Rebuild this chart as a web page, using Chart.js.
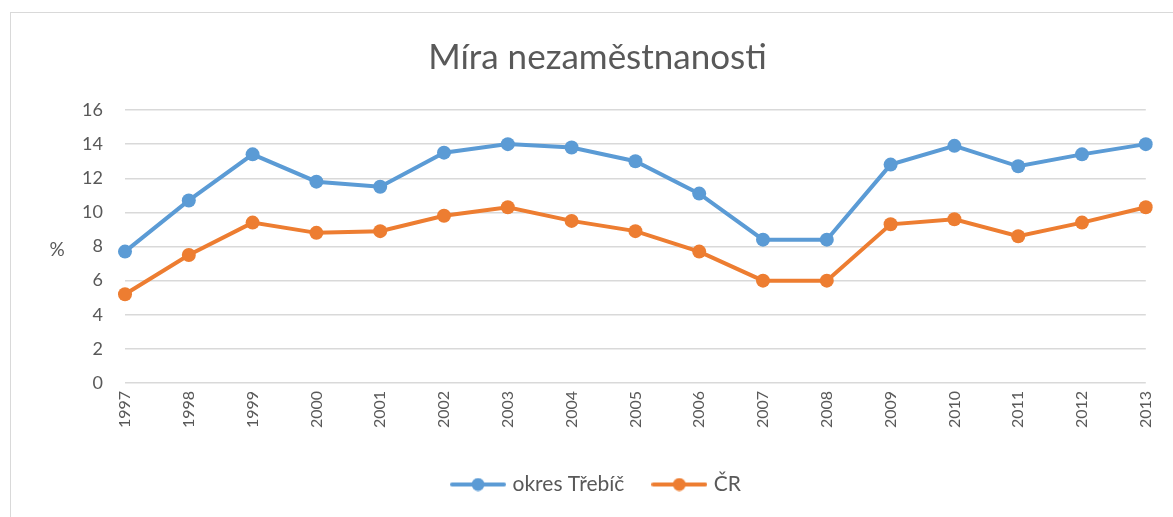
<!DOCTYPE html>
<html>
<head>
<meta charset="utf-8">
<script src="https://cdn.jsdelivr.net/npm/chart.js@4/dist/chart.umd.min.js"></script>
<style>
body{margin:0;background:#fff;overflow:hidden;}
#frame{position:absolute;left:10px;top:12px;width:1200px;height:560px;border-left:1.5px solid #D9D9D9;border-top:1.5px solid #D9D9D9;}
#chart{position:absolute;left:0;top:0;}
</style>
</head>
<body>
<div id="frame"></div>
<canvas id="chart" width="1173" height="517"></canvas>
<script>

/* ===============================
        Data
================================ */

const years = ["1997","1998","1999","2000","2001","2002","2003","2004","2005","2006","2007","2008","2009","2010","2011","2012","2013"];

const trebic = [7.7,10.7,13.4,11.8,11.5,13.5,14.0,13.8,13.0,11.1,8.4,8.4,12.8,13.9,12.7,13.4,14.0];

const cr = [5.2,7.5,9.4,8.8,8.9,9.8,10.3,9.5,8.9,7.7,6.0,6.0,9.3,9.6,8.6,9.4,10.3];

const yTicks = [0,2,4,6,8,10,12,14,16];

const textColor = "#595959";
const fontFamily = "Lato, 'Open Sans', sans-serif";


/* legend marker: line with a dot (a bit wider than its legend box) */
function legendMarker(color){
  const c = document.createElement("canvas");
  c.width = 56;
  c.height = 14;
  const g = c.getContext("2d");
  g.strokeStyle = color;
  g.lineWidth = 4;
  g.lineCap = "round";
  g.beginPath();
  g.moveTo(2,7);
  g.lineTo(54,7);
  g.stroke();
  g.fillStyle = color;
  g.beginPath();
  g.arc(28,7,6.5,0,Math.PI*2);
  g.fill();
  return c;
}


/* "%" label next to the y axis, kept horizontal */
const percentLabel = {
  id:"percentLabel",
  afterDraw(chart){
    const a = chart.chartArea;
    const ctx = chart.ctx;
    ctx.save();
    ctx.fillStyle = textColor;
    ctx.font = "19px " + fontFamily;
    ctx.textAlign = "center";
    ctx.textBaseline = "middle";
    ctx.fillText("%", a.left - 68, (a.top + a.bottom)/2 + 3);
    ctx.restore();
  }
};


new Chart(
document.getElementById("chart"),
{

type:"line",

data:{
  labels:years,
  datasets:[
    {
      label:"okres Třebíč",
      data:trebic,
      borderColor:"#5B9BD5",
      backgroundColor:"#5B9BD5",
      borderWidth:4,
      pointRadius:7,
      pointBorderWidth:0,
      pointStyle:"circle",
      tension:0
    },
    {
      label:"ČR",
      data:cr,
      borderColor:"#ED7D31",
      backgroundColor:"#ED7D31",
      borderWidth:4,
      pointRadius:7,
      pointBorderWidth:0,
      pointStyle:"circle",
      tension:0
    }
  ]
},

options:{
  responsive:false,
  animation:false,
  layout:{
    padding:{left:42,right:20,top:0,bottom:12}
  },
  plugins:{
    title:{
      display:true,
      text:"Míra nezaměstnanosti",
      color:textColor,
      font:{family:fontFamily,size:35,weight:"normal"},
      padding:{top:37,bottom:31}
    },
    legend:{
      position:"bottom",
      labels:{
        color:textColor,
        font:{family:fontFamily,size:21},
        usePointStyle:true,
        pointStyleWidth:48,
        padding:31,
        generateLabels(chart){
          return chart.data.datasets.map((ds,i)=>({
            text:ds.label,
            pointStyle:legendMarker(ds.borderColor),
            fillStyle:ds.borderColor,
            strokeStyle:ds.borderColor,
            lineWidth:0,
            fontColor:textColor,
            hidden:false,
            datasetIndex:i
          }));
        }
      }
    },
    tooltip:{enabled:false}
  },
  scales:{
    x:{
      offset:false,
      grid:{display:false,drawTicks:false},
      border:{display:false},
      ticks:{
        color:textColor,
        font:{family:fontFamily,size:16},
        minRotation:90,
        maxRotation:90,
        padding:8,
        autoSkip:false
      },
      afterFit(scale){ scale.height = 60; }
    },
    y:{
      min:0,
      max:16,
      afterBuildTicks(scale){ scale.ticks = yTicks.map(v=>({value:v})); },
      grid:{color:"#D9D9D9",lineWidth:1.5,drawTicks:false},
      border:{display:false},
      ticks:{
        color:textColor,
        font:{family:fontFamily,size:18},
        padding:22
      },
      afterFit(scale){ scale.width = 83; }
    }
  }
},

plugins:[percentLabel]

}
);

</script>
</body>
</html>
